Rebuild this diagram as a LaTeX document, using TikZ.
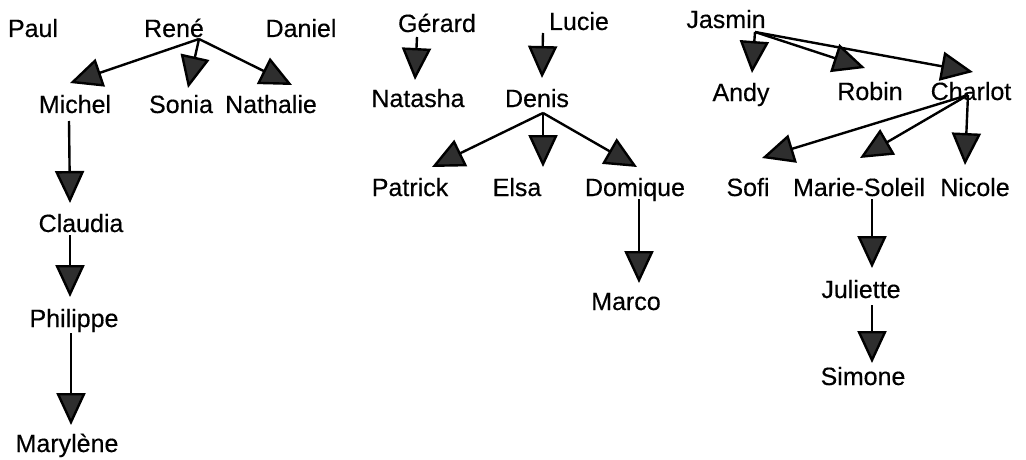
\documentclass[tikz,border=0pt]{standalone}
\usepackage{fontspec}
\setmainfont[FakeBold=0.35]{Liberation Sans}
\usetikzlibrary{arrows.meta}

\begin{document}
\begin{tikzpicture}[x=1pt,y=-1pt,
  person/.style={anchor=base,inner sep=0pt,font=\fontsize{25}{29}\selectfont},
  arr/.style={line width=2.4pt,draw=black,
    -{Triangle[length=32pt,width=29pt,fill=black!82,color=black]}}]
\useasboundingbox (0,0) rectangle (1026,460);

% --- family of René ---
\node[person] (paul)     at (33,37)   {Paul};
\node[person] (rene)     at (174,37)  {René};
\node[person] (daniel)   at (301,37)  {Daniel};
\node[person] (michel)   at (75,113)  {Michel};
\node[person] (sonia)    at (181,113) {Sonia};
\node[person] (nathalie) at (271,113) {Nathalie};
\node[person] (claudia)  at (81,232)  {Claudia};
\node[person] (philippe) at (74,327)  {Philippe};
\node[person] (marylene) at (67,452)  {Marylène};

% --- families of Gérard and Lucie ---
\node[person] (gerard)   at (437,32)  {Gérard};
\node[person] (natasha)  at (418,107) {Natasha};
\node[person] (lucie)    at (579,30)  {Lucie};
\node[person] (denis)    at (537,107) {Denis};
\node[person] (patrick)  at (410,196) {Patrick};
\node[person] (elsa)     at (517,196) {Elsa};
\node[person] (domique)  at (635,196) {Domique};
\node[person] (marco)    at (626,310) {Marco};

% --- family of Jasmin ---
\node[person] (jasmin)   at (726,28)  {Jasmin};
\node[person] (andy)     at (741,101) {Andy};
\node[person] (robin)    at (870,100) {Robin};
\node[person] (charlot)  at (971,100) {Charlot};
\node[person] (sofi)     at (748,196) {Sofi};
\node[person] (marie)    at (859,196) {Marie-Soleil};
\node[person] (nicole)   at (975,196) {Nicole};
\node[person] (juliette) at (861,298) {Juliette};
\node[person] (simone)   at (863,385) {Simone};

% --- parent-to-child arrows ---
\draw[arr] ([shift={(25,2)}]rene.base) -- ([shift={(-5,-30)}]michel.base);
\draw[arr] ([shift={(25,2)}]rene.base) -- ([shift={(7,-25)}]sonia.base);
\draw[arr] ([shift={(25,2)}]rene.base) -- ([shift={(21,-28)}]nathalie.base);
\draw[arr] ([shift={(-6,8)}]michel.base) -- ([shift={(-11,-29)}]claudia.base);
\draw[arr] ([shift={(-11,3)}]claudia.base) -- ([shift={(-4,-30)}]philippe.base);
\draw[arr] ([shift={(-3,6)}]philippe.base) -- ([shift={(4,-27)}]marylene.base);

\draw[arr] ([shift={(-20,5)}]gerard.base) -- ([shift={(-3,-27)}]natasha.base);
\draw[arr] ([shift={(-36,3)}]lucie.base) -- ([shift={(5,-29)}]denis.base);
\draw[arr] ([shift={(6,6)}]denis.base) -- ([shift={(22,-29)}]patrick.base);
\draw[arr] ([shift={(6,6)}]denis.base) -- ([shift={(26,-29)}]elsa.base);
\draw[arr] ([shift={(6,6)}]denis.base) -- ([shift={(2,-29)}]domique.base);
\draw[arr] ([shift={(4,3)}]domique.base) -- ([shift={(13,-27)}]marco.base);

\draw[arr] ([shift={(29,4)}]jasmin.base) -- ([shift={(11,-28)}]andy.base);
\draw[arr] ([shift={(29,4)}]jasmin.base) -- ([shift={(-5,-32)}]robin.base);
\draw[arr] ([shift={(29,4)}]jasmin.base) -- ([shift={(2,-28)}]charlot.base);
\draw[arr] ([shift={(-3,-5)}]charlot.base) -- ([shift={(14,-38)}]sofi.base);
\draw[arr] ([shift={(-3,-5)}]charlot.base) -- ([shift={(1,-38)}]marie.base);
\draw[arr] ([shift={(-3,-5)}]charlot.base) -- ([shift={(-10,-31)}]nicole.base);
\draw[arr] ([shift={(13,3)}]marie.base) -- ([shift={(11,-30)}]juliette.base);
\draw[arr] ([shift={(11,7)}]juliette.base) -- ([shift={(9,-22)}]simone.base);
\end{tikzpicture}
\end{document}
